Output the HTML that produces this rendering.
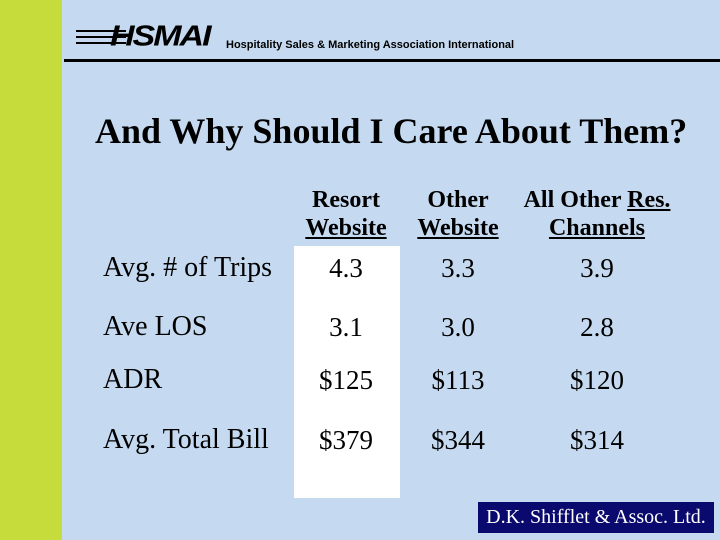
<!DOCTYPE html>
<html><head><meta charset="utf-8"><style>
body{margin:0;width:720px;height:540px;overflow:hidden;background:#c5daf0;position:relative;font-family:"Liberation Serif",serif}
div,span{position:absolute}
.c{text-align:center;transform:translateX(-50%);white-space:nowrap}
.h{font-weight:bold;font-size:24px;line-height:28px}
.v{font-size:27px;line-height:30px}
.l{font-size:28px;line-height:30px;left:103px;white-space:nowrap}
</style></head><body>
<div style="left:0;top:0;width:62px;height:540px;background:#c6dc3a"></div>
<div style="left:64px;top:59px;width:656px;height:3px;background:#000"></div>
<div style="left:110px;top:19px;font-family:'Liberation Sans',sans-serif;font-weight:bold;font-style:italic;font-size:34px;line-height:34px;letter-spacing:-2px;transform:scaleY(0.85)">HSMAI</div>
<div style="left:76px;top:30px;width:50px;height:18px;background:repeating-linear-gradient(#000 0 2px,transparent 2px 6px)"></div>
<div style="left:226px;top:39px;font-family:'Liberation Sans',sans-serif;font-weight:bold;font-size:11px">Hospitality Sales &amp; Marketing Association International</div>
<div style="left:95px;top:111px;font-weight:bold;font-size:36px;line-height:40px;white-space:nowrap">And Why Should I Care About Them?</div>
<div style="left:294px;top:246px;width:106px;height:252px;background:#fff"></div>
<div class="c h" style="left:346px;top:186px">Resort<br><u>Website</u></div>
<div class="c h" style="left:458px;top:186px">Other<br><u>Website</u></div>
<div class="c h" style="left:597px;top:186px">All Other <u>Res.</u><br><u>Channels</u></div>
<div id="rows"></div>
<div style="left:478px;top:502px;width:236px;height:31px;background:#0a0a6e;color:#fff;font-size:20px;line-height:31px;text-align:center">D.K. Shifflet &amp; Assoc. Ltd.</div>
<script>
const labels=["Avg. # of Trips","Ave LOS","ADR","Avg. Total Bill"];
const resort=["4.3","3.1","$125","$379"];
const other=["3.3","3.0","$113","$344"];
const allOther=["3.9","2.8","$120","$314"];
const rowY=[253,312,365,425];
const colX=[346,458,597];
const rows=document.getElementById('rows');
labels.forEach((lab,i)=>{
 const d=document.createElement('div');d.className='l';d.style.top=rowY[i]+'px';d.textContent=lab;
 
 
 rows.appendChild(d);
 [resort,other,allOther].forEach((s,j)=>{
  const v=document.createElement('div');v.className='c v';v.style.left=colX[j]+'px';v.style.top=rowY[i]+'px';v.textContent=s[i];
  
  
  rows.appendChild(v);
 });
});
</script>
</body></html>
